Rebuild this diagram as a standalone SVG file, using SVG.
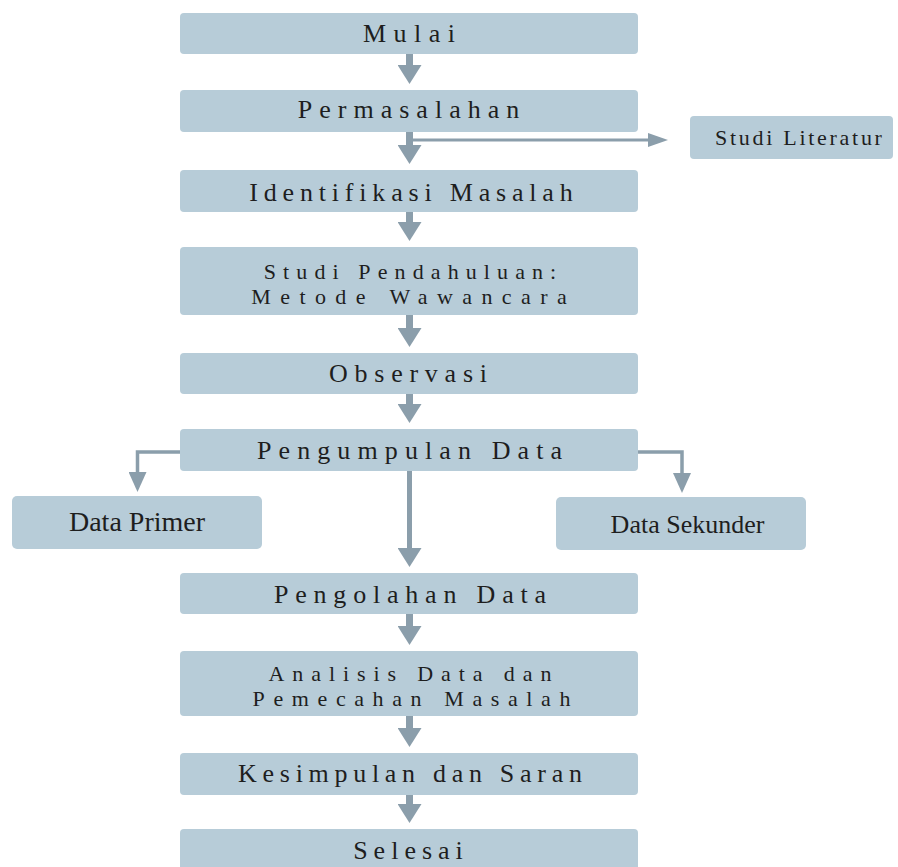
<svg xmlns="http://www.w3.org/2000/svg" width="898" height="867" viewBox="0 0 898 867">
<style>
.box{fill:#b7ccd8;}
.t{fill:#1e1e1e;text-anchor:middle;font-size:26px;}
.t2{fill:#1e1e1e;text-anchor:middle;font-size:22px;}
.c{fill:none;stroke:#8b9eab;}
</style>
<defs>
<marker id="ah" viewBox="0 0 19 24" markerWidth="19" markerHeight="24" refX="0" refY="12" orient="auto" markerUnits="userSpaceOnUse"><path d="M0,0 L19,12 L0,24 Z" fill="#8b9eab"/></marker>
<marker id="as" viewBox="0 0 20 14" markerWidth="20" markerHeight="14" refX="0" refY="7" orient="auto" markerUnits="userSpaceOnUse"><path d="M0,0 L20,7 L0,14 Z" fill="#8b9eab"/></marker>
<marker id="ab" viewBox="0 0 20 18" markerWidth="20" markerHeight="18" refX="0" refY="9" orient="auto" markerUnits="userSpaceOnUse"><path d="M0,0 L20,9 L0,18 Z" fill="#8b9eab"/></marker>
</defs>
<rect width="898" height="867" fill="#ffffff"/>
<g id="connectors">
<path class="c" stroke-width="7" d="M409.5,54 V65" marker-end="url(#ah)"/>
<path class="c" stroke-width="7" d="M409.5,132 V145" marker-end="url(#ah)"/>
<path class="c" stroke-width="7" d="M409.5,212 V222" marker-end="url(#ah)"/>
<path class="c" stroke-width="7" d="M409.5,315 V328" marker-end="url(#ah)"/>
<path class="c" stroke-width="7" d="M409.5,394 V404" marker-end="url(#ah)"/>
<path class="c" stroke-width="5" d="M409.5,471 V548" marker-end="url(#ah)"/>
<path class="c" stroke-width="7" d="M409.5,614 V626" marker-end="url(#ah)"/>
<path class="c" stroke-width="7" d="M409.5,716 V728" marker-end="url(#ah)"/>
<path class="c" stroke-width="7" d="M409.5,795 V804" marker-end="url(#ah)"/>
<path class="c" stroke-width="3" d="M410,140 H648" marker-end="url(#as)"/>
<path class="c" stroke-width="3.5" d="M180,452 H137.5 V472" marker-end="url(#ab)"/>
<path class="c" stroke-width="3.5" d="M638,452 H682 V473" marker-end="url(#ab)"/>
</g>
<g id="mulai"><rect class="box" x="180" y="13" width="458" height="41" rx="4"/>
<text class="t" font-family="Liberation Serif, serif" x="409" y="42" dx="0 7.5 7.5 7.5 7.5">Mulai</text></g>
<g id="permasalahan"><rect class="box" x="180" y="90" width="458" height="42" rx="4"/>
<text class="t" font-family="Liberation Serif, serif" x="408.5" y="118" dx="0 7 7 7 7 7 7 7 7 7 7 7">Permasalahan</text></g>
<g id="studi-literatur"><rect class="box" x="690" y="116" width="203" height="43" rx="4"/>
<text class="t" font-family="Liberation Serif, serif" font-size="22" style="font-size:22px" x="798.5" y="145" dx="0 2.7 2.7 2.7 2.7 2.7 2.7 2.7 2.7 2.7 2.7 2.7 2.7 2.7 2.7">Studi Literatur</text></g>
<g id="identifikasi"><rect class="box" x="180" y="170" width="458" height="42" rx="4"/>
<text class="t" font-family="Liberation Serif, serif" x="411" y="201" dx="0 5.8 5.8 5.8 5.8 5.8 5.8 5.8 5.8 5.8 5.8 5.8 5.8 5.8 5.8 5.8 5.8 5.8 5.8 5.8">Identifikasi Masalah</text></g>
<g id="studi-pendahuluan"><rect class="box" x="180" y="247" width="458" height="68" rx="4"/>
<text class="t2" font-family="Liberation Serif, serif" x="410" y="279" dx="0 7.1 7.1 7.1 7.1 7.1 7.1 7.1 7.1 7.1 7.1 7.1 7.1 7.1 7.1 7.1 7.1 7.1">Studi Pendahuluan:</text>
<text class="t2" font-family="Liberation Serif, serif" x="409" y="304" dx="0 9.4 9.4 9.4 9.4 9.4 9.4 9.4 9.4 9.4 9.4 9.4 9.4 9.4 9.4 9.4">Metode Wawancara</text></g>
<g id="observasi"><rect class="box" x="180" y="353" width="458" height="41" rx="4"/>
<text class="t" font-family="Liberation Serif, serif" x="408" y="382" dx="0 6.75 6.75 6.75 6.75 6.75 6.75 6.75 6.75">Observasi</text></g>
<g id="pengumpulan"><rect class="box" x="180" y="429" width="458" height="42" rx="4"/>
<text class="t" font-family="Liberation Serif, serif" x="409.5" y="459" dx="0 7.1 7.1 7.1 7.1 7.1 7.1 7.1 7.1 7.1 7.1 7.1 7.1 7.1 7.1 7.1">Pengumpulan Data</text></g>
<g id="data-primer"><rect class="box" x="12" y="496" width="250" height="53" rx="5"/>
<text class="t" font-family="Liberation Serif, serif" font-size="28" style="font-size:28px" x="137" y="531">Data Primer</text></g>
<g id="data-sekunder"><rect class="box" x="556" y="497" width="250" height="53" rx="5"/>
<text class="t" font-family="Liberation Serif, serif" x="687.5" y="533">Data Sekunder</text></g>
<g id="pengolahan"><rect class="box" x="180" y="573" width="458" height="41" rx="4"/>
<text class="t" font-family="Liberation Serif, serif" x="410" y="603" dx="0 6.8 6.8 6.8 6.8 6.8 6.8 6.8 6.8 6.8 6.8 6.8 6.8 6.8 6.8">Pengolahan Data</text></g>
<g id="analisis"><rect class="box" x="180" y="651" width="458" height="65" rx="4"/>
<text class="t2" font-family="Liberation Serif, serif" x="410" y="681" dx="0 7.9 7.9 7.9 7.9 7.9 7.9 7.9 7.9 7.9 7.9 7.9 7.9 7.9 7.9 7.9 7.9">Analisis Data dan</text>
<text class="t2" font-family="Liberation Serif, serif" x="411.5" y="706" dx="0 8.6 8.6 8.6 8.6 8.6 8.6 8.6 8.6 8.6 8.6 8.6 8.6 8.6 8.6 8.6 8.6">Pemecahan Masalah</text></g>
<g id="kesimpulan"><rect class="box" x="180" y="753" width="458" height="42" rx="4"/>
<text class="t" font-family="Liberation Serif, serif" x="410" y="782" dx="0 5.7 5.7 5.7 5.7 5.7 5.7 5.7 5.7 5.7 5.7 5.7 5.7 5.7 5.7 5.7 5.7 5.7 5.7 5.7">Kesimpulan dan Saran</text></g>
<g id="selesai"><rect class="box" x="180" y="829" width="458" height="44" rx="4"/>
<text class="t" font-family="Liberation Serif, serif" x="408" y="859" dx="0 6 6 6 6 6 6">Selesai</text></g>
</svg>
